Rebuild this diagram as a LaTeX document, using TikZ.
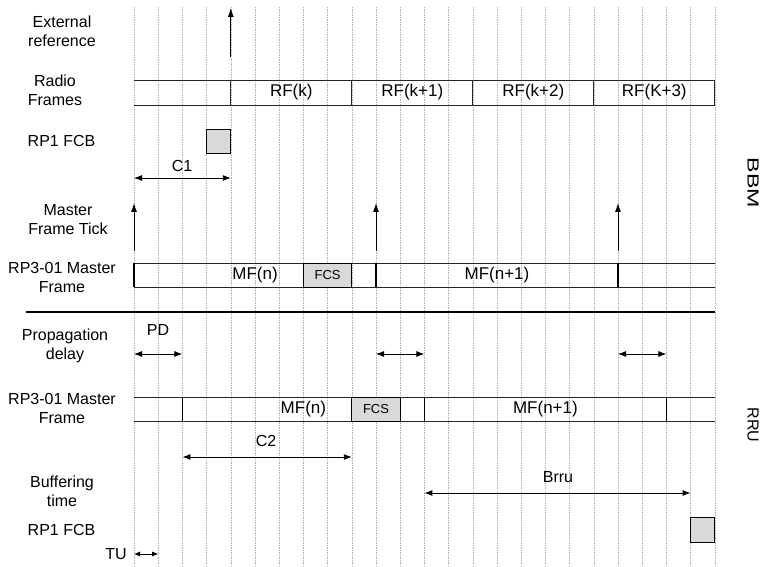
\documentclass[tikz,border=0pt]{standalone}
\usepackage{fontspec}
\setmainfont{Liberation Sans}
\usepackage{graphicx}
\usetikzlibrary{arrows.meta}
\begin{document}
\begin{tikzpicture}[x=1pt,y=-1pt,
  gridline/.style={draw=gray!60, line width=0.5pt, dash pattern=on 1.5pt off 1pt},
  barline/.style={draw=black!85, line width=0.9pt},
  tickline/.style={draw=black, line width=1.6pt},
  framebox/.style={draw=black!85, line width=0.9pt, minimum height=25pt, minimum width=121pt, inner sep=0pt, font=\fontsize{17}{19}\selectfont},
  fcsbox/.style={draw=black, fill=black!15, line width=0.9pt, minimum height=24pt, minimum width=48.4pt, inner sep=0pt, font=\fontsize{13}{15}\selectfont},
  fcbbox/.style={draw=black, fill=black!15, line width=0.9pt, minimum height=24.5pt, minimum width=24.2pt, inner sep=0pt},
  lbl/.style={align=center, font=\fontsize{16}{19}\selectfont, inner sep=0pt},
  barlbl/.style={font=\fontsize{17}{19}\selectfont, inner sep=0pt},
  dimarrow/.style={draw=black, line width=0.9pt, {Latex[length=8pt,width=6pt]}-{Latex[length=8pt,width=6pt]}},
  uparrow/.style={draw=black, line width=0.9pt, -{Latex[length=9pt,width=6pt]}},
]
\fill[white] (0,0) rectangle (769,567);
\useasboundingbox (0,0) rectangle (769,567);

% grid
\foreach \i in {0,...,24} { \coordinate (g\i) at ({134+24.2*\i},0); }
\foreach \i in {0,...,24} { \draw[gridline] (g\i |- 0,7) -- (g\i |- 0,567); }

% left labels
\node[lbl] (lext) at (62,31) {External\\reference};
\node[lbl] (lrf) at (55,90) {Radio\\Frames};
\node[lbl] (lfcb1) at (61.5,141) {RP1 FCB};
\node[lbl] (lmft) at (68,220) {Master\\Frame Tick};
\node[lbl] (lmf1) at (62,277) {RP3-01 Master\\Frame};
\node[lbl] (lpd) at (65,346) {Propagation\\delay};
\node[lbl] (lmf2) at (62,408) {RP3-01 Master\\Frame};
\node[lbl] (lbuf) at (62,491) {Buffering\\time};
\node[lbl] (lfcb2) at (61.5,530) {RP1 FCB};
\node[lbl, anchor=east] (ltu) at (127,554) {TU};

% side labels
\node[lbl, rotate=-90] (bbm) at (753,183) {\scalebox{1.45}[1]{BBM}};
\node[lbl, rotate=-90] (rru) at (753,425) {RRU};

% external reference
\coordinate (extB) at (g4 |- 0,57);
\coordinate (extT) at (g4 |- 0,8);
\draw[uparrow] (extB) -- (extT);

% radio frames
\coordinate (rfL1) at (g0 |- 0,80); \coordinate (rfR1) at (g24 |- 0,80);
\coordinate (rfL2) at (g0 |- 0,105); \coordinate (rfR2) at (g24 |- 0,105);
\draw[barline] (rfL1) -- (rfR1);
\draw[barline] (rfL2) -- (rfR2);
\node[framebox] (rf0) at (291.3,92.5) {RF(k)};
\node[framebox] (rf1) at (412.3,92.5) {RF(k+1)};
\node[framebox] (rf2) at (533.3,92.5) {RF(k+2)};
\node[framebox] (rf3) at (654.3,92.5) {RF(K+3)};

% RP1 FCB (BBM)
\node[fcbbox] (fcb1) at (218.7,141.5) {};

% C1
\coordinate (c1a) at (g0 |- 0,178);
\coordinate (c1b) at (g4 |- 0,178);
\draw[dimarrow] (c1a) -- (c1b);
\node[lbl] (c1) at (182,166) {C1};

% master frame ticks
\foreach \g in {0,10,20} {
  \coordinate (mtB\g) at (g\g |- 0,251);
  \coordinate (mtT\g) at (g\g |- 0,203);
  \draw[uparrow] (mtB\g) -- (mtT\g);
}

% BBM master frame bar
\coordinate (mfaL1) at (g0 |- 0,263); \coordinate (mfaR1) at (g24 |- 0,263);
\coordinate (mfaL2) at (g0 |- 0,287); \coordinate (mfaR2) at (g24 |- 0,287);
\draw[barline] (mfaL1) -- (mfaR1);
\draw[barline] (mfaL2) -- (mfaR2);
\node[fcsbox] (fcsa) at (327.6,275) {FCS};
\foreach \g in {0,10,20} {
  \coordinate (mfaT\g) at (g\g |- 0,263);
  \coordinate (mfaB\g) at (g\g |- 0,287);
  \draw[tickline] (mfaT\g) -- (mfaB\g);
}
\node[barlbl] (mfan) at (255,275) {MF(n)};
\node[barlbl] (mfan1) at (497,275) {MF(n+1)};

% separator
\coordinate (sepL) at (26,312);
\coordinate (sepR) at (g24 |- 0,312);
\draw[draw=black, line width=1.2pt] (sepL) -- (sepR);

% propagation delay
\foreach \a/\b in {0/2,10/12,20/22} {
  \coordinate (pdA\a) at (g\a |- 0,354);
  \coordinate (pdB\a) at (g\b |- 0,354);
  \draw[dimarrow] (pdA\a) -- (pdB\a);
}
\node[lbl] (pd) at (158,330) {PD};

% RRU master frame bar
\coordinate (mfbL1) at (g0 |- 0,397); \coordinate (mfbR1) at (g24 |- 0,397);
\coordinate (mfbL2) at (g0 |- 0,421); \coordinate (mfbR2) at (g24 |- 0,421);
\draw[barline] (mfbL1) -- (mfbR1);
\draw[barline] (mfbL2) -- (mfbR2);
\node[fcsbox] (fcsb) at (376,409) {FCS};
\foreach \g in {2,12,22} {
  \coordinate (mfbT\g) at (g\g |- 0,397);
  \coordinate (mfbB\g) at (g\g |- 0,421);
  \draw[tickline] (mfbT\g) -- (mfbB\g);
}
\node[barlbl] (mfbn) at (303.4,409) {MF(n)};
\node[barlbl] (mfbn1) at (545.4,409) {MF(n+1)};

% C2
\coordinate (c2a) at (g2 |- 0,457);
\coordinate (c2b) at (g9 |- 0,457);
\draw[dimarrow] (c2a) -- (c2b);
\node[lbl] (c2) at (266,441) {C2};

% Brru
\coordinate (bra) at (g12 |- 0,493);
\coordinate (brb) at (g23 |- 0,493);
\draw[dimarrow] (bra) -- (brb);
\node[lbl] (brru) at (558,477) {Brru};

% RP1 FCB (RRU)
\node[fcbbox] (fcb2) at (702.7,530) {};

% TU
\coordinate (tua) at (g0 |- 0,554);
\coordinate (tub) at (g1 |- 0,554);
\draw[draw=black, line width=0.9pt, {Latex[length=6pt,width=5pt]}-{Latex[length=6pt,width=5pt]}] (tua) -- (tub);
\end{tikzpicture}
\end{document}
